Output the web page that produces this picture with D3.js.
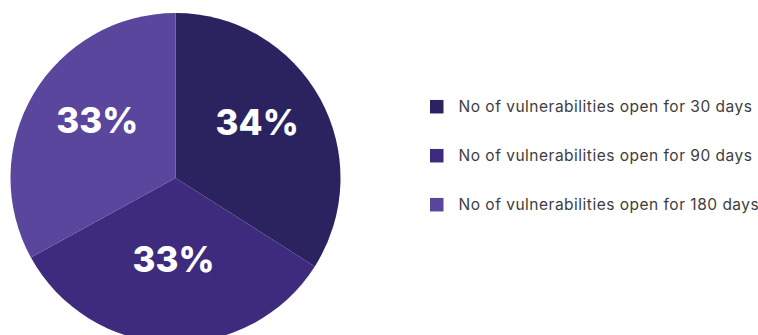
<!DOCTYPE html>
<html>
<head>
<meta charset="utf-8">
<script src="https://cdn.jsdelivr.net/npm/d3@7"></script>
<style>
  html, body { margin: 0; padding: 0; background: #fff; }
  svg { display: block; }
</style>
</head>
<body>
<svg id="chart" width="758" height="335"></svg>
<script>
const categories = [
  "No of vulnerabilities open for 30 days",
  "No of vulnerabilities open for 90 days",
  "No of vulnerabilities open for 180 days"
];
const values = [34, 33, 33];
const colors = ["#2a2360", "#3e2b7e", "#5a469c"];

const svg = d3.select("#chart");
const cx = 175.5, cy = 178, radius = 165;

const data = categories.map((c, i) => ({ name: c, value: values[i], color: colors[i] }));

const pie = d3.pie().value(d => d.value).sort(null);
const arcs = pie(data);

const arc = d3.arc().innerRadius(0).outerRadius(radius);
const labelArc = d3.arc().innerRadius(92).outerRadius(92);

const g = svg.append("g").attr("transform", `translate(${cx},${cy})`);

g.selectAll("path.slice")
  .data(arcs)
  .join("path")
  .attr("class", "slice")
  .attr("d", arc)
  .attr("fill", d => d.data.color);

g.selectAll("text.pct")
  .data(arcs)
  .join("text")
  .attr("class", "pct")
  .attr("transform", d => {
    const [x, y] = labelArc.centroid(d);
    return `translate(${x + 1},${y - 11})`;
  })
  .attr("text-anchor", "middle")
  .attr("dy", "0.36em")
  .attr("fill", "#ffffff")
  .style("font-family", "Inter, 'Open Sans', sans-serif")
  .style("font-weight", 800)
  .style("font-size", "35px")
  .text(d => d.data.value + "%");

// Legend
const legend = svg.append("g").attr("transform", "translate(430,106.7)");
const rowStep = 49;
const item = legend.selectAll("g.item")
  .data(data)
  .join("g")
  .attr("class", "item")
  .attr("transform", (d, i) => `translate(0,${i * rowStep})`);

item.append("rect")
  .attr("x", 0).attr("y", -6.75)
  .attr("width", 13.5).attr("height", 13.5)
  .attr("fill", d => d.color);

item.append("text")
  .attr("x", 28.5)
  .attr("dy", "0.35em")
  .attr("fill", "#3d3d3d")
  .style("font-family", "Inter, 'Open Sans', sans-serif")
  .style("font-size", "15.5px")
  .style("letter-spacing", "0.5px")
  .text(d => d.name);
</script>
</body>
</html>
